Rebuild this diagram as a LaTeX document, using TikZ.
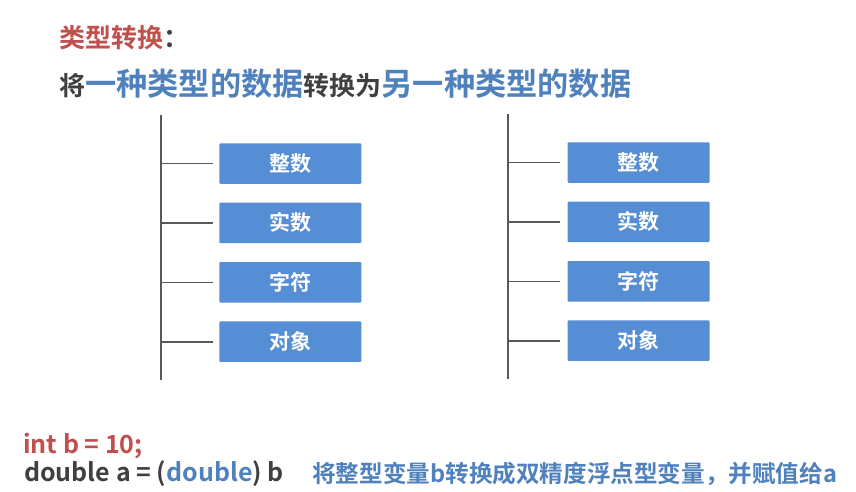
\documentclass[tikz,border=0pt]{standalone}
\usepackage{fontspec}
\setmainfont{Noto Sans CJK SC}[BoldFont={Noto Sans CJK SC Bold}]
\usepackage{xcolor}
\definecolor{titleRed}{HTML}{C0504D}
\definecolor{textBlue}{HTML}{4F81BD}
\definecolor{textGray}{HTML}{404040}
\definecolor{boxBlue}{HTML}{558ED5}
\definecolor{lineGray}{HTML}{595959}
\usepackage{tikz}
\usetikzlibrary{positioning}
\tikzset{%
  typeBox/.style={%
    rectangle,
    rounded corners=1pt,
    fill=boxBlue,
    text=white,
    font=\bfseries\fontsize{21}{25}\selectfont,
    minimum width=142pt,
    minimum height=40.5pt,
    inner sep=0pt
  },
  treeLine/.style={%
    draw=lineGray,
    line width=1.6pt
  },
  plainText/.style={%
    anchor=base west,
    inner sep=0pt,
    font=\bfseries
  }
}

\begin{document}
\begin{tikzpicture}[x=1pt,y=-1pt,node distance=18.5pt]
            \path[use as bounding box, fill=white] (0,0) rectangle (856,492);

            % heading lines
            \node[plainText, font=\bfseries\fontsize{26}{30}\selectfont] (title) at (59,48)
              {\textcolor{titleRed}{类型转换}\textcolor{textGray}{：}};
            \node[plainText, font=\bfseries\fontsize{31.2}{36}\selectfont, text=textBlue] (intro) at (59,96)
              {{\fontsize{26}{30}\selectfont\textcolor{textGray}{将}}一种类型的数据{\fontsize{26}{30}\selectfont\textcolor{textGray}{转换为}}另一种类型的数据};

            % source types
            \node[typeBox] (intA) at (290.3,163.5) {整数};
            \node[typeBox, below=of intA] (realA) {实数};
            \node[typeBox, below=of realA] (charA) {字符};
            \node[typeBox, below=of charA] (objA) {对象};

            % target types
            \node[typeBox] (intB) at (638.5,162.5) {整数};
            \node[typeBox, below=of intB] (realB) {实数};
            \node[typeBox, below=of realB] (charB) {字符};
            \node[typeBox, below=of charB] (objB) {对象};

            % trunks and branches
            \coordinate (trunkTopA) at (161,115);
            \coordinate (trunkEndA) at (161,380);
            \coordinate (trunkTopB) at (508,114);
            \coordinate (trunkEndB) at (508,379);
            \draw[treeLine] (trunkTopA) -- (trunkEndA);
            \draw[treeLine] (trunkTopB) -- (trunkEndB);
            \foreach \b in {intA,realA,charA,objA}
              \draw[treeLine, shorten >=6pt] (trunkTopA |- \b.west) -- (\b.west);
            \foreach \b in {intB,realB,charB,objB}
              \draw[treeLine, shorten >=7pt] (trunkTopB |- \b.west) -- (\b.west);

            % example code
            \node[plainText, font=\bfseries\fontsize{25}{29}\selectfont, text=titleRed] (intLine) at (23,453) {int b = 10;};
            \node[plainText, font=\bfseries\fontsize{25}{29}\selectfont, text=textGray] (castLine) at (24,481)
              {double a = (\textcolor{textBlue}{double}) b};
            \node[plainText, font=\bfseries\fontsize{23.6}{28}\selectfont, text=textBlue] (castNote) at (312,482)
              {将整型变量b转换成双精度浮点型变量，并赋值给a};
        \end{tikzpicture}
\end{document}
